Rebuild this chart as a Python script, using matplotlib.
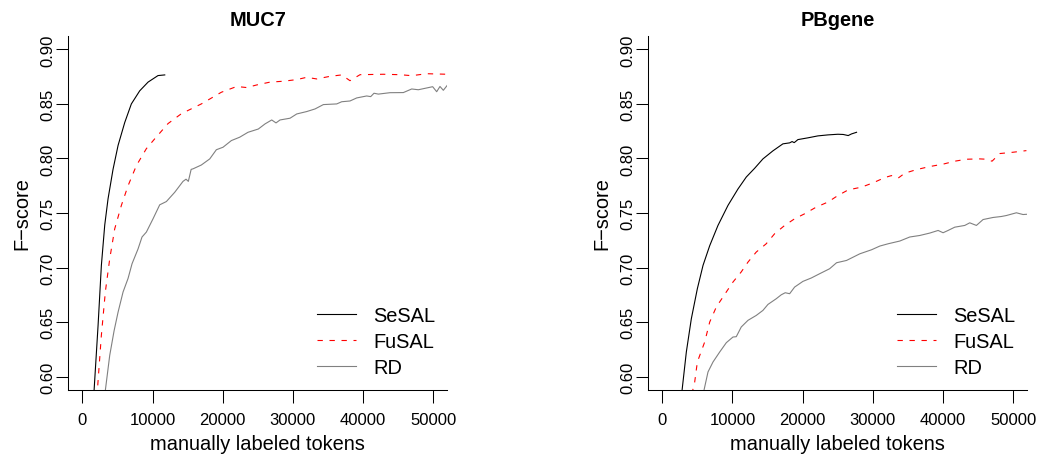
import matplotlib
matplotlib.use("Agg")
import matplotlib.pyplot as plt

plt.rcParams["font.family"] = ["Liberation Sans", "DejaVu Sans"]

# ---- MUC7 learning curves ----
muc_sesal_x = [1600, 2240, 2710, 3190, 3660, 4370, 5090, 6040, 6980, 8170, 9360, 10780, 11740]
muc_sesal_y = [0.580, 0.647, 0.702, 0.739, 0.763, 0.790, 0.812, 0.833, 0.850, 0.862, 0.870, 0.876, 0.8766]

muc_fusal_x = [2070, 2710, 3280, 3900, 4610, 5560, 6510, 7700, 9120, 10310, 12210, 14100, 16950,
               19800, 21990, 23420, 24840, 26740, 28630, 30540, 31960, 33390, 35280, 36950, 38130,
               39560, 42880, 45260, 46920, 49060, 52000]
muc_fusal_y = [0.581, 0.638, 0.678, 0.708, 0.7355, 0.757, 0.775, 0.7935, 0.809, 0.818, 0.832, 0.841,
               0.850, 0.8607, 0.866, 0.865, 0.8674, 0.870, 0.8708, 0.8723, 0.8744, 0.8729, 0.8753,
               0.8766, 0.8713, 0.8768, 0.8772, 0.8768, 0.8759, 0.8777, 0.8772]

muc_rd_x = [3150, 3900, 4520, 5085, 5800, 6510, 7080, 7930, 8500, 9120, 10070, 11020, 11970, 13160,
            14340, 14770, 15100, 15500, 15770, 16950, 18150, 19090, 20040, 21230, 22420, 23600,
            25070, 26030, 26980, 27590, 28160, 29590, 30540, 31960, 33150, 34340, 36240, 36950,
            38130, 39090, 40510, 41080, 41550, 42170, 43830, 45730, 46920, 47870, 48820, 49910,
            50480, 50950, 51430, 52140]
muc_rd_y = [0.581, 0.6195, 0.642, 0.659, 0.6776, 0.690, 0.7035, 0.717, 0.728, 0.7325, 0.7447,
            0.7575, 0.7605, 0.769, 0.779, 0.781, 0.779, 0.790, 0.7905, 0.794, 0.7996, 0.808,
            0.8103, 0.8164, 0.8195, 0.824, 0.827, 0.8317, 0.8353, 0.8326, 0.8353, 0.8369, 0.8408,
            0.843, 0.8454, 0.8494, 0.850, 0.852, 0.8527, 0.8555, 0.8573, 0.8567, 0.8598, 0.859,
            0.8603, 0.8604, 0.8637, 0.863, 0.8643, 0.8658, 0.8612, 0.866, 0.8625, 0.8683]

# ---- PBgene learning curves ----
pb_sesal_x = [2750, 3420, 4130, 4990, 5800, 6750, 7930, 9360, 10780, 11970, 13160, 14340, 15770,
              17190, 18150, 18500, 18800, 19330, 20750, 22180, 23600, 25030, 25790, 26500, 26970,
              27690]
pb_sesal_y = [0.584, 0.6226, 0.653, 0.6806, 0.702, 0.720, 0.7386, 0.757, 0.772, 0.783, 0.791,
              0.7996, 0.807, 0.8134, 0.8143, 0.8155, 0.8145, 0.8173, 0.8189, 0.8207, 0.8216,
              0.8222, 0.822, 0.821, 0.8225, 0.824]

pb_fusal_x = [4200, 4610, 4990, 6040, 6750, 7690, 9120, 10070, 11250, 12210, 13390, 14810, 16010,
              17440, 18860, 20290, 21940, 23600, 25030, 26500, 28400, 30060, 31720, 32670, 33620,
              34570, 36240, 38130, 40030, 41700, 43370, 45260, 46210, 47010, 48110, 50000, 51910]
pb_fusal_y = [0.584, 0.595, 0.6134, 0.6318, 0.650, 0.6638, 0.6776, 0.6867, 0.696, 0.705, 0.7142,
              0.7218, 0.731, 0.7386, 0.7447, 0.7493, 0.7554, 0.760, 0.766, 0.7712, 0.7737, 0.7777,
              0.7825, 0.7843, 0.782, 0.7865, 0.7898, 0.7926, 0.7948, 0.7975, 0.7993, 0.7996,
              0.7993, 0.7975, 0.8045, 0.8057, 0.8072]

pb_rd_x = [5850, 6510, 7220, 8180, 9120, 10070, 10540, 11250, 12210, 13390, 14340, 15060, 16240,
           16950, 17520, 18150, 18860, 20040, 21230, 22420, 23850, 24840, 26260, 28160, 29830,
           31010, 32200, 33860, 35280, 36710, 38130, 39320, 40030, 40740, 41690, 43120, 43830,
           44780, 45730, 47150, 48340, 49060, 50480, 51430, 52140]
pb_rd_y = [0.585, 0.6043, 0.6134, 0.6226, 0.6311, 0.6363, 0.6366, 0.6455, 0.6516, 0.6561, 0.6607,
           0.6662, 0.6714, 0.675, 0.6769, 0.676, 0.6821, 0.6873, 0.6904, 0.6943, 0.6989, 0.7044,
           0.7065, 0.7126, 0.7163, 0.7197, 0.7218, 0.7243, 0.728, 0.7294, 0.7316, 0.734, 0.7319,
           0.734, 0.737, 0.7386, 0.741, 0.7386, 0.744, 0.7459, 0.7468, 0.7477, 0.7502, 0.7486,
           0.7489]

series_names = ["SeSAL", "FuSAL", "RD"]
x_ticks = [0, 10000, 20000, 30000, 40000, 50000]
y_ticks = [0.60, 0.65, 0.70, 0.75, 0.80, 0.85, 0.90]

panels = [
    ("MUC7", [(muc_sesal_x, muc_sesal_y), (muc_fusal_x, muc_fusal_y), (muc_rd_x, muc_rd_y)]),
    ("PBgene", [(pb_sesal_x, pb_sesal_y), (pb_fusal_x, pb_fusal_y), (pb_rd_x, pb_rd_y)]),
]

styles = [
    dict(color="black", linestyle="-"),
    dict(color="#ff0000", linestyle=(0, (4.8, 6))),
    dict(color="#808080", linestyle="-"),
]

fig = plt.figure(figsize=(10.43, 4.56), dpi=100)
axes_pos = [(0.0655, 0.1432, 0.3634, 0.775), (0.6216, 0.1432, 0.3631, 0.775)]

for (title, series), pos in zip(panels, axes_pos):
    ax = fig.add_axes(pos)
    for (xs, ys), name, st in zip(series, series_names, styles):
        ax.plot(xs, ys, lw=0.8, label=name, **st)
    ax.set_xlim(-2000, 52000)
    ax.set_ylim(0.588, 0.912)
    ax.set_xticks(x_ticks)
    ax.set_xticklabels([str(v) for v in x_ticks])
    ax.set_yticks(y_ticks)
    ax.set_yticklabels(["%.2f" % v for v in y_ticks])
    for lab in ax.get_yticklabels():
        lab.set_rotation(90)
        lab.set_va("center")
    ax.tick_params(axis="both", direction="out", width=0.75, labelsize=12)
    ax.tick_params(axis="x", length=9.5, pad=6.5)
    ax.tick_params(axis="y", length=8.4, pad=1)
    for side in ("top", "right"):
        ax.spines[side].set_visible(False)
    for side in ("left", "bottom"):
        ax.spines[side].set_linewidth(0.75)
    ax.set_xlabel("manually labeled tokens", fontsize=14.4)
    ax.xaxis.set_label_coords(0.5, -0.1265)
    ax.set_ylabel("F\u2212score", fontsize=14.4)
    ax.yaxis.set_label_coords(-0.0987, 0.5)
    ax.set_title(title, fontsize=14.4, fontweight="bold", pad=8)
    ax.legend(loc="center left", bbox_to_anchor=(0.657, 0.136), frameon=False, fontsize=14.4,
              handlelength=1.92, handletextpad=0.87, labelspacing=0.34, borderpad=0,
              borderaxespad=0)

fig.savefig("out.png", dpi=100)
